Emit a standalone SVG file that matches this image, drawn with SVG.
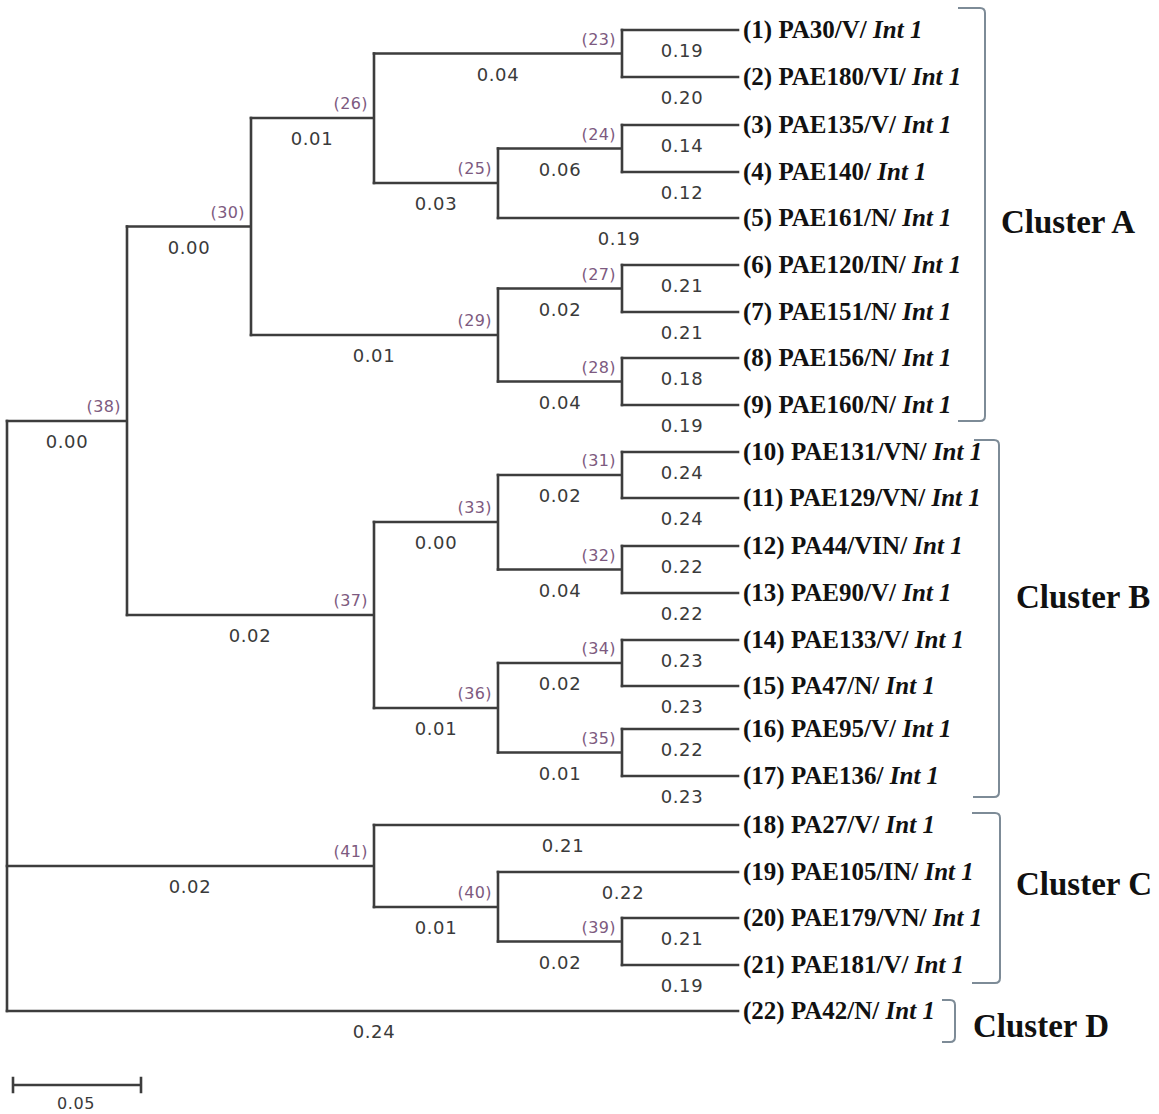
<svg xmlns="http://www.w3.org/2000/svg" width="1159" height="1114" viewBox="0 0 1159 1114">
<style>
.br{fill:none;stroke:#3d3d3d;stroke-width:2.6;stroke-linecap:square}
.bk{fill:none;stroke:#7d8b97;stroke-width:2}
.len{font-family:"DejaVu Sans",sans-serif;font-size:18px;letter-spacing:0.6px;fill:#3a3a3a;text-anchor:middle}
.bs{font-family:"DejaVu Sans",sans-serif;font-size:16px;letter-spacing:0.4px;fill:#7d5a80;text-anchor:end}
.leaf{font-family:"Liberation Serif",serif;font-size:25px;font-weight:bold;fill:#111}
.it{font-style:italic}
.cl{font-family:"Liberation Serif",serif;font-size:33px;font-weight:bold;fill:#111}
</style>
<rect width="1159" height="1114" fill="#ffffff"/>
<g id="connectors">
<path class="br" d="M7,421 V1011"/>
<path class="br" d="M7,421 H127 M127,226.5 V615"/>
<path class="br" d="M127,226.5 H251 M251,118 V335"/>
<path class="br" d="M251,118 H374 M374,53.5 V183"/>
<path class="br" d="M374,53.5 H622 M622,30 V77"/>
<path class="br" d="M374,183 H498 M498,148.5 V218"/>
<path class="br" d="M498,148.5 H622 M622,125 V172"/>
<path class="br" d="M251,335 H498 M498,288.5 V381.5"/>
<path class="br" d="M498,288.5 H622 M622,265 V312"/>
<path class="br" d="M498,381.5 H622 M622,358 V405"/>
<path class="br" d="M127,615 H374 M374,522 V708"/>
<path class="br" d="M374,522 H498 M498,475 V569.5"/>
<path class="br" d="M498,475 H622 M622,452 V498"/>
<path class="br" d="M498,569.5 H622 M622,546 V593"/>
<path class="br" d="M374,708 H498 M498,663 V752.5"/>
<path class="br" d="M498,663 H622 M622,640 V686"/>
<path class="br" d="M498,752.5 H622 M622,729 V776"/>
<path class="br" d="M7,866 H374 M374,825 V907"/>
<path class="br" d="M374,907 H498 M498,872 V941.5"/>
<path class="br" d="M498,941.5 H622 M622,918 V965"/>
<path class="br" d="M622,30 H738 M622,77 H738 M622,125 H738 M622,172 H738 M498,218 H738 M622,265 H738 M622,312 H738 M622,358 H738 M622,405 H738"/>
<path class="br" d="M622,452 H738 M622,498 H738 M622,546 H738 M622,593 H738 M622,640 H738 M622,686 H738 M622,729 H738 M622,776 H738"/>
<path class="br" d="M374,825 H738 M498,872 H738 M622,918 H738 M622,965 H738 M7,1011 H738"/>
</g>
<g id="internal-nodes">
<g id="n38"><text class="bs" x="121" y="412">(38)</text><text class="len" x="67" y="448">0.00</text></g>
<g id="n30"><text class="bs" x="245" y="217.5">(30)</text><text class="len" x="189" y="253.5">0.00</text></g>
<g id="n26"><text class="bs" x="368" y="109">(26)</text><text class="len" x="312" y="145">0.01</text></g>
<g id="n23"><text class="bs" x="616" y="44.5">(23)</text><text class="len" x="498" y="80.5">0.04</text></g>
<g id="n25"><text class="bs" x="492" y="174">(25)</text><text class="len" x="436" y="210">0.03</text></g>
<g id="n24"><text class="bs" x="616" y="139.5">(24)</text><text class="len" x="560" y="175.5">0.06</text></g>
<g id="n29"><text class="bs" x="492" y="326">(29)</text><text class="len" x="374" y="362">0.01</text></g>
<g id="n27"><text class="bs" x="616" y="279.5">(27)</text><text class="len" x="560" y="315.5">0.02</text></g>
<g id="n28"><text class="bs" x="616" y="372.5">(28)</text><text class="len" x="560" y="408.5">0.04</text></g>
<g id="n37"><text class="bs" x="368" y="606">(37)</text><text class="len" x="250" y="642">0.02</text></g>
<g id="n33"><text class="bs" x="492" y="513">(33)</text><text class="len" x="436" y="549">0.00</text></g>
<g id="n31"><text class="bs" x="616" y="466">(31)</text><text class="len" x="560" y="502">0.02</text></g>
<g id="n32"><text class="bs" x="616" y="560.5">(32)</text><text class="len" x="560" y="596.5">0.04</text></g>
<g id="n36"><text class="bs" x="492" y="699">(36)</text><text class="len" x="436" y="735">0.01</text></g>
<g id="n34"><text class="bs" x="616" y="654">(34)</text><text class="len" x="560" y="690">0.02</text></g>
<g id="n35"><text class="bs" x="616" y="743.5">(35)</text><text class="len" x="560" y="779.5">0.01</text></g>
<g id="n41"><text class="bs" x="368" y="857">(41)</text><text class="len" x="190" y="893">0.02</text></g>
<g id="n40"><text class="bs" x="492" y="898">(40)</text><text class="len" x="436" y="934">0.01</text></g>
<g id="n39"><text class="bs" x="616" y="932.5">(39)</text><text class="len" x="560" y="968.5">0.02</text></g>
</g>
<g id="leaves">
<g id="leaf1"><text class="len" x="682" y="57">0.19</text><text class="leaf" x="743" y="38">(1) PA30/V/ <tspan class="it">Int 1</tspan></text></g>
<g id="leaf2"><text class="len" x="682" y="104">0.20</text><text class="leaf" x="743" y="85">(2) PAE180/VI/ <tspan class="it">Int 1</tspan></text></g>
<g id="leaf3"><text class="len" x="682" y="152">0.14</text><text class="leaf" x="743" y="133">(3) PAE135/V/ <tspan class="it">Int 1</tspan></text></g>
<g id="leaf4"><text class="len" x="682" y="199">0.12</text><text class="leaf" x="743" y="180">(4) PAE140/ <tspan class="it">Int 1</tspan></text></g>
<g id="leaf5"><text class="len" x="619" y="245">0.19</text><text class="leaf" x="743" y="226">(5) PAE161/N/ <tspan class="it">Int 1</tspan></text></g>
<g id="leaf6"><text class="len" x="682" y="292">0.21</text><text class="leaf" x="743" y="273">(6) PAE120/IN/ <tspan class="it">Int 1</tspan></text></g>
<g id="leaf7"><text class="len" x="682" y="339">0.21</text><text class="leaf" x="743" y="320">(7) PAE151/N/ <tspan class="it">Int 1</tspan></text></g>
<g id="leaf8"><text class="len" x="682" y="385">0.18</text><text class="leaf" x="743" y="366">(8) PAE156/N/ <tspan class="it">Int 1</tspan></text></g>
<g id="leaf9"><text class="len" x="682" y="432">0.19</text><text class="leaf" x="743" y="413">(9) PAE160/N/ <tspan class="it">Int 1</tspan></text></g>
<g id="leaf10"><text class="len" x="682" y="479">0.24</text><text class="leaf" x="743" y="460">(10) PAE131/VN/ <tspan class="it">Int 1</tspan></text></g>
<g id="leaf11"><text class="len" x="682" y="525">0.24</text><text class="leaf" x="743" y="506">(11) PAE129/VN/ <tspan class="it">Int 1</tspan></text></g>
<g id="leaf12"><text class="len" x="682" y="573">0.22</text><text class="leaf" x="743" y="554">(12) PA44/VIN/ <tspan class="it">Int 1</tspan></text></g>
<g id="leaf13"><text class="len" x="682" y="620">0.22</text><text class="leaf" x="743" y="601">(13) PAE90/V/ <tspan class="it">Int 1</tspan></text></g>
<g id="leaf14"><text class="len" x="682" y="667">0.23</text><text class="leaf" x="743" y="648">(14) PAE133/V/ <tspan class="it">Int 1</tspan></text></g>
<g id="leaf15"><text class="len" x="682" y="713">0.23</text><text class="leaf" x="743" y="694">(15) PA47/N/ <tspan class="it">Int 1</tspan></text></g>
<g id="leaf16"><text class="len" x="682" y="756">0.22</text><text class="leaf" x="743" y="737">(16) PAE95/V/ <tspan class="it">Int 1</tspan></text></g>
<g id="leaf17"><text class="len" x="682" y="803">0.23</text><text class="leaf" x="743" y="784">(17) PAE136/ <tspan class="it">Int 1</tspan></text></g>
<g id="leaf18"><text class="len" x="563" y="852">0.21</text><text class="leaf" x="743" y="833">(18) PA27/V/ <tspan class="it">Int 1</tspan></text></g>
<g id="leaf19"><text class="len" x="623" y="899">0.22</text><text class="leaf" x="743" y="880">(19) PAE105/IN/ <tspan class="it">Int 1</tspan></text></g>
<g id="leaf20"><text class="len" x="682" y="945">0.21</text><text class="leaf" x="743" y="926">(20) PAE179/VN/ <tspan class="it">Int 1</tspan></text></g>
<g id="leaf21"><text class="len" x="682" y="992">0.19</text><text class="leaf" x="743" y="973">(21) PAE181/V/ <tspan class="it">Int 1</tspan></text></g>
<g id="leaf22"><text class="len" x="374" y="1038">0.24</text><text class="leaf" x="743" y="1019">(22) PA42/N/ <tspan class="it">Int 1</tspan></text></g>
</g>
<g id="clusters">
<g id="clusterA"><path class="bk" d="M958,8 H980 Q985,8 985,13 V416 Q985,421 980,421 H958"/><text class="cl" x="1001" y="233">Cluster A</text></g>
<g id="clusterB"><path class="bk" d="M974,440 H994 Q999,440 999,445 V792 Q999,797 994,797 H973"/><text class="cl" x="1016" y="608">Cluster B</text></g>
<g id="clusterC"><path class="bk" d="M972,813 H995 Q1000,813 1000,818 V978 Q1000,983 995,983 H972"/><text class="cl" x="1016" y="895">Cluster C</text></g>
<g id="clusterD"><path class="bk" d="M942,1000 H950 Q955,1000 955,1005 V1037 Q955,1042 950,1042 H942"/><text class="cl" x="973" y="1037">Cluster D</text></g>
</g>
<g id="scale">
<path class="br" d="M13,1085 H141 M13,1078 V1092 M141,1078 V1092"/>
<text class="len" x="76" y="1109" style="font-size:16px">0.05</text>
</g>
</svg>
